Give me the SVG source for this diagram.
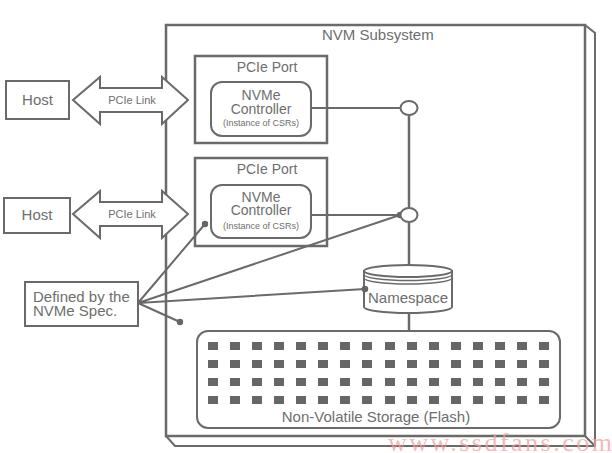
<svg xmlns="http://www.w3.org/2000/svg" width="612" height="453" viewBox="0 0 612 453">
<style>
.ln{stroke:#6a6a6a;fill:none}
.bx{stroke:#6a6a6a;fill:#fff}
.t{font-family:"Liberation Sans",Arial,sans-serif;fill:#6e6e6e}
.sq{fill:#666}
.dot{fill:#666}
</style>
<rect width="612" height="453" fill="#fff"/>
<g id="nvm-subsystem">
<path class="ln" stroke-width="2" d="M585,25 L595,33 V446 H175 L166,436 M585,436 L595,446"/>
<rect class="ln" x="166" y="25" width="419" height="411" stroke-width="2.5"/>
<text class="t" x="322" y="40" font-size="15">NVM Subsystem</text>
</g>
<g id="connectors">
<line class="ln" x1="311" y1="108" x2="401" y2="108" stroke-width="2"/>
<line class="ln" x1="311" y1="215" x2="401" y2="215" stroke-width="2"/>
<line class="ln" x1="409" y1="115" x2="409" y2="331" stroke-width="2.5"/>
<path class="ln" stroke-width="2" d="M138,303 L205,224 M138,303 L400,215 M138,303 L365,289 M138,303 L180,322"/>
<circle class="dot" cx="205" cy="224" r="3.2"/>
<circle class="dot" cx="400" cy="215" r="3.2"/>
<circle class="dot" cx="365" cy="289" r="3.2"/>
<circle class="dot" cx="180" cy="322" r="3.2"/>
</g>
<g id="host1">
<rect class="bx" x="6" y="81" width="63" height="38" stroke-width="2"/>
<text class="t" x="37.5" y="105" font-size="15" text-anchor="middle">Host</text>
</g>
<g id="link1">
<path class="bx" stroke-width="2" d="M73,100 L100,77 V88 H162 V77 L188,100 L162,124 V112 H100 V124 Z"/>
<text class="t" x="132" y="104" font-size="11" text-anchor="middle">PCIe Link</text>
</g>
<g id="host2">
<rect class="bx" x="4" y="198" width="66" height="35" stroke-width="2"/>
<text class="t" x="37" y="220" font-size="15" text-anchor="middle">Host</text>
</g>
<g id="link2">
<path class="bx" stroke-width="2" d="M73,214 L100,191 V202 H162 V191 L188,214 L162,238 V226 H100 V238 Z"/>
<text class="t" x="132" y="218" font-size="11" text-anchor="middle">PCIe Link</text>
</g>
<g id="port1">
<rect class="ln" x="195" y="56" width="132" height="87" stroke-width="2.5"/>
<text class="t" x="267" y="72" font-size="14" text-anchor="middle">PCIe Port</text>
</g>
<g id="controller1">
<rect class="bx" x="211" y="82" width="100" height="54" rx="11" stroke-width="2"/>
<text class="t" x="261" y="100" font-size="14" text-anchor="middle">NVMe</text>
<text class="t" x="261" y="114" font-size="14" text-anchor="middle">Controller</text>
<text class="t" x="261" y="126" font-size="9" text-anchor="middle">(Instance of CSRs)</text>
</g>
<g id="port2">
<rect class="ln" x="195" y="158" width="132" height="88" stroke-width="2.5"/>
<text class="t" x="267" y="174" font-size="14" text-anchor="middle">PCIe Port</text>
</g>
<g id="controller2">
<rect class="bx" x="211" y="185" width="100" height="53" rx="11" stroke-width="2"/>
<text class="t" x="261" y="202" font-size="14" text-anchor="middle">NVMe</text>
<text class="t" x="261" y="215" font-size="14" text-anchor="middle">Controller</text>
<text class="t" x="261" y="229" font-size="9" text-anchor="middle">(Instance of CSRs)</text>
</g>
<g id="junction1">
<ellipse class="bx" cx="409" cy="108" rx="8.5" ry="7" stroke-width="2"/>
</g>
<g id="junction2">
<ellipse class="bx" cx="409" cy="215" rx="8.5" ry="7" stroke-width="2"/>
</g>
<g id="namespace">
<path class="bx" stroke-width="2" d="M364,271 V307 A44,6 0 0 0 452,307 V271 Z"/>
<ellipse class="bx" cx="408" cy="271" rx="44" ry="6" stroke-width="2"/>
<path class="ln" stroke-width="1.5" d="M364,274.5 A44,6 0 0 0 452,274.5 M364,278 A44,6 0 0 0 452,278"/>
<circle class="dot" cx="365" cy="289" r="3.2"/>
<text class="t" x="408" y="303" font-size="15" text-anchor="middle">Namespace</text>
</g>
<g id="storage">
<rect class="bx" x="197" y="331" width="363" height="97" rx="11" stroke-width="2"/>
<g id="cells">
<rect class="sq" x="208" y="342" width="10" height="8"/><rect class="sq" x="230" y="342" width="10" height="8"/><rect class="sq" x="252" y="342" width="10" height="8"/><rect class="sq" x="274" y="342" width="10" height="8"/><rect class="sq" x="296" y="342" width="10" height="8"/><rect class="sq" x="318" y="342" width="10" height="8"/><rect class="sq" x="340" y="342" width="10" height="8"/><rect class="sq" x="362" y="342" width="10" height="8"/><rect class="sq" x="385" y="342" width="10" height="8"/><rect class="sq" x="407" y="342" width="10" height="8"/><rect class="sq" x="429" y="342" width="10" height="8"/><rect class="sq" x="451" y="342" width="10" height="8"/><rect class="sq" x="473" y="342" width="10" height="8"/><rect class="sq" x="495" y="342" width="10" height="8"/><rect class="sq" x="517" y="342" width="10" height="8"/><rect class="sq" x="539" y="342" width="10" height="8"/>
<rect class="sq" x="208" y="360" width="10" height="8"/><rect class="sq" x="230" y="360" width="10" height="8"/><rect class="sq" x="252" y="360" width="10" height="8"/><rect class="sq" x="274" y="360" width="10" height="8"/><rect class="sq" x="296" y="360" width="10" height="8"/><rect class="sq" x="318" y="360" width="10" height="8"/><rect class="sq" x="340" y="360" width="10" height="8"/><rect class="sq" x="362" y="360" width="10" height="8"/><rect class="sq" x="385" y="360" width="10" height="8"/><rect class="sq" x="407" y="360" width="10" height="8"/><rect class="sq" x="429" y="360" width="10" height="8"/><rect class="sq" x="451" y="360" width="10" height="8"/><rect class="sq" x="473" y="360" width="10" height="8"/><rect class="sq" x="495" y="360" width="10" height="8"/><rect class="sq" x="517" y="360" width="10" height="8"/><rect class="sq" x="539" y="360" width="10" height="8"/>
<rect class="sq" x="208" y="378" width="10" height="8"/><rect class="sq" x="230" y="378" width="10" height="8"/><rect class="sq" x="252" y="378" width="10" height="8"/><rect class="sq" x="274" y="378" width="10" height="8"/><rect class="sq" x="296" y="378" width="10" height="8"/><rect class="sq" x="318" y="378" width="10" height="8"/><rect class="sq" x="340" y="378" width="10" height="8"/><rect class="sq" x="362" y="378" width="10" height="8"/><rect class="sq" x="385" y="378" width="10" height="8"/><rect class="sq" x="407" y="378" width="10" height="8"/><rect class="sq" x="429" y="378" width="10" height="8"/><rect class="sq" x="451" y="378" width="10" height="8"/><rect class="sq" x="473" y="378" width="10" height="8"/><rect class="sq" x="495" y="378" width="10" height="8"/><rect class="sq" x="517" y="378" width="10" height="8"/><rect class="sq" x="539" y="378" width="10" height="8"/>
<rect class="sq" x="208" y="396" width="10" height="8"/><rect class="sq" x="230" y="396" width="10" height="8"/><rect class="sq" x="252" y="396" width="10" height="8"/><rect class="sq" x="274" y="396" width="10" height="8"/><rect class="sq" x="296" y="396" width="10" height="8"/><rect class="sq" x="318" y="396" width="10" height="8"/><rect class="sq" x="340" y="396" width="10" height="8"/><rect class="sq" x="362" y="396" width="10" height="8"/><rect class="sq" x="385" y="396" width="10" height="8"/><rect class="sq" x="407" y="396" width="10" height="8"/><rect class="sq" x="429" y="396" width="10" height="8"/><rect class="sq" x="451" y="396" width="10" height="8"/><rect class="sq" x="473" y="396" width="10" height="8"/><rect class="sq" x="495" y="396" width="10" height="8"/><rect class="sq" x="517" y="396" width="10" height="8"/><rect class="sq" x="539" y="396" width="10" height="8"/>
</g>
<text class="t" x="376" y="422" font-size="15" text-anchor="middle">Non-Volatile Storage (Flash)</text>
</g>
<g id="spec-note">
<rect class="bx" x="25" y="282" width="113" height="44" stroke-width="2"/>
<text class="t" x="33" y="302" font-size="15">Defined by the</text>
<text class="t" x="33" y="316" font-size="15">NVMe Spec.</text>
</g>
<g id="watermark">
<text x="388" y="451" font-family="Liberation Serif,serif" font-size="26" fill="#f2a0a0" fill-opacity="0.75" textLength="224" lengthAdjust="spacing">www.ssdfans.com</text>
</g>
</svg>
